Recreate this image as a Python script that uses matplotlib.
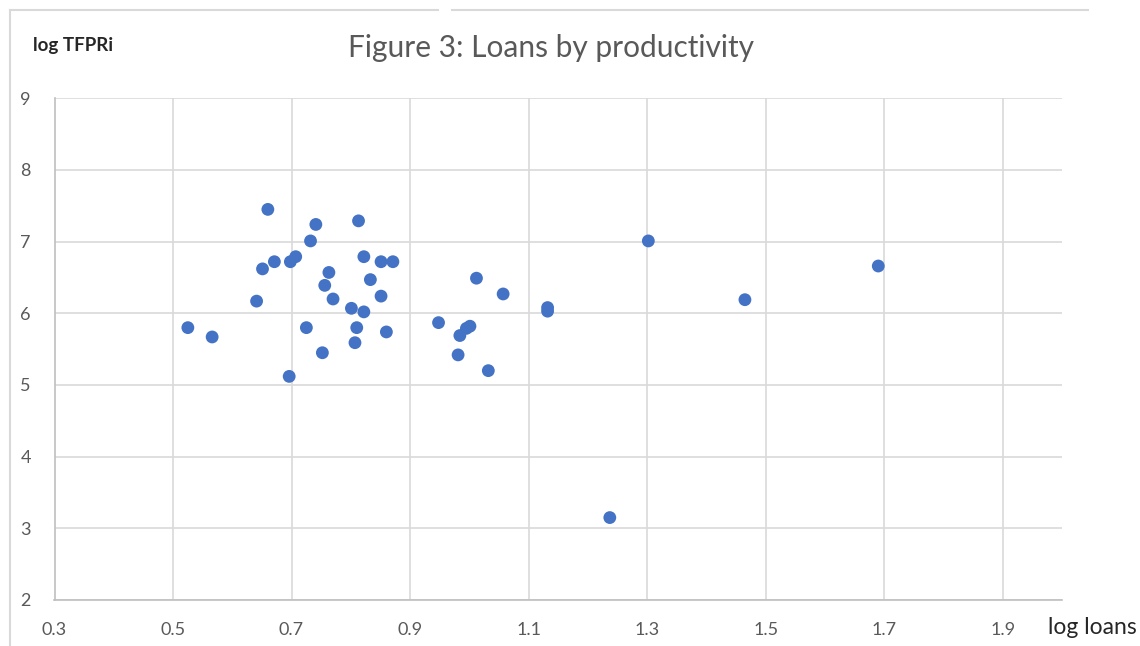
import numpy as np
import matplotlib.pyplot as plt
from matplotlib.lines import Line2D

# data
log_loans = [0.525, 0.566, 0.660, 0.671, 0.651, 0.641, 0.698, 0.707, 0.732, 0.741,
             0.725, 0.696, 0.752, 0.763, 0.756, 0.770, 0.813, 0.822, 0.833, 0.801,
             0.822, 0.810, 0.807, 0.851, 0.871, 0.851, 0.860, 0.948, 1.012, 1.001,
             0.995, 0.984, 0.981, 1.032, 1.057, 1.132, 1.132, 1.302, 1.237, 1.465,
             1.690]
log_tfpri = [5.80, 5.67, 7.45, 6.72, 6.62, 6.17, 6.72, 6.79, 7.01, 7.24,
             5.80, 5.12, 5.45, 6.57, 6.39, 6.20, 7.29, 6.79, 6.47, 6.07,
             6.02, 5.80, 5.59, 6.72, 6.72, 6.24, 5.74, 5.87, 6.49, 5.82,
             5.79, 5.69, 5.42, 5.20, 6.27, 6.08, 6.03, 7.01, 3.15, 6.19,
             6.66]
x_ticks = [0.3, 0.5, 0.7, 0.9, 1.1, 1.3, 1.5, 1.7, 1.9]
y_ticks = [2, 3, 4, 5, 6, 7, 8, 9]

plt.rcParams['font.family'] = ['Lato', 'DejaVu Sans']

W, H = 1140, 646
fig = plt.figure(figsize=(W / 100, H / 100), dpi=100)
ax = fig.add_axes([54.5 / W, 1 - 600 / H, (1062 - 54.5) / W, (600 - 98.3) / H])

ax.scatter(log_loans, log_tfpri, s=85, color='#4472C4', edgecolors='none', zorder=3)

ax.set_xlim(0.3, 2.0)
ax.set_ylim(2, 9)
ax.set_xticks(x_ticks)
ax.set_xticklabels([f"{v:.1f}" for v in x_ticks])
ax.set_yticks(y_ticks)
ax.grid(True, color='#d9d9d9', linewidth=1.2)
ax.set_axisbelow(True)

for side in ['top', 'right']:
    ax.spines[side].set_visible(False)
for side in ['left', 'bottom']:
    ax.spines[side].set_color('#bfbfbf')
    ax.spines[side].set_linewidth(1.2)
ax.tick_params(length=0, labelsize=13, colors='#595959')
ax.tick_params(axis='x', pad=16)
ax.tick_params(axis='y', pad=17)

fig.text(551 / W, 1 - 48 / H, "Figure 3: Loans by productivity", ha='center', va='center',
         fontsize=21.5, color='#595959')
fig.text(33 / W, 1 - 46 / H, "log TFPRi", ha='left', va='center', fontsize=13.5,
         fontweight='bold', color='#262626')
fig.text(1048 / W, 1 - 628 / H, "log loans", ha='left', va='center', fontsize=16.5, color='#262626')

# chart frame (left and top edges visible in the screenshot)
frame = dict(color='#d9d9d9', linewidth=1.5, transform=fig.transFigure)
fig.add_artist(Line2D([10 / W, 10 / W], [0, 1 - 10 / H], **frame))
fig.add_artist(Line2D([10 / W, 438 / W], [1 - 10 / H, 1 - 10 / H], **frame))
fig.add_artist(Line2D([452 / W, 1088 / W], [1 - 10 / H, 1 - 10 / H], **frame))

fig.savefig("out.png", dpi=100)
